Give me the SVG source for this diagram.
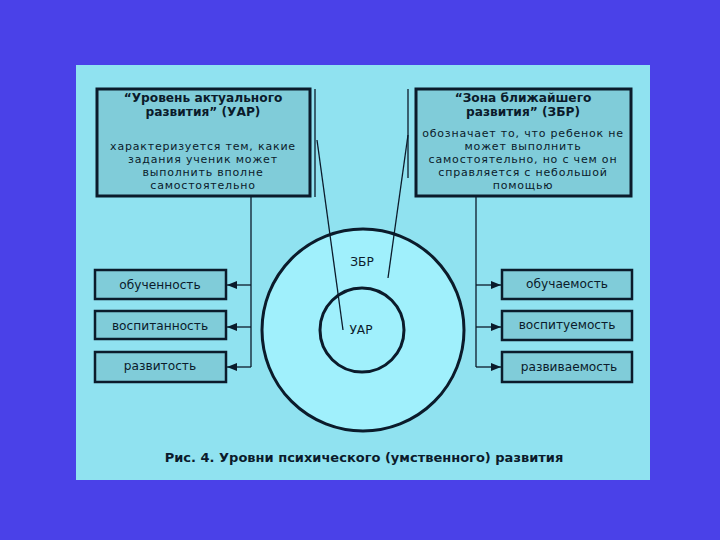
<svg xmlns="http://www.w3.org/2000/svg" width="720" height="540" viewBox="0 0 720 540">
<style>
.box{fill:#80ccd9;stroke:#0b1b2b;stroke-width:3}
.sbox{fill:#80ccd9;stroke:#0b1b2b;stroke-width:2.5}
.ln{fill:none;stroke:#0b1b2b;stroke-width:1.3}
.t{font-family:"DejaVu Sans",Verdana,sans-serif;font-size:12.2px;fill:#0b1b2b;text-anchor:middle}
.bd{font-size:11px;letter-spacing:0.8px}
.b{font-weight:bold;font-size:12.2px}
</style>
<defs>
<marker id="ah" viewBox="0 0 10 8" refX="10" refY="4" markerWidth="10" markerHeight="8" markerUnits="userSpaceOnUse" orient="auto">
<path d="M0,0 L10,4 L0,8 Z" fill="#0b1b2b"/>
</marker>
</defs>
<rect x="0" y="0" width="720" height="540" fill="#4a41e8"/>
<rect x="76" y="65" width="574" height="415" fill="#90e2f0"/>

<g id="circles">
<circle cx="363" cy="330" r="101" fill="#a0f0fc" stroke="#0b1b2b" stroke-width="3"/>
<circle cx="362" cy="330" r="42" fill="#a0f0fc" stroke="#0b1b2b" stroke-width="3"/>
<text class="t" x="362" y="266">ЗБР</text>
<text class="t" x="361" y="334">УАР</text>
</g>

<g id="connectors">
<line class="ln" x1="315" y1="89" x2="315" y2="197"/>
<line class="ln" x1="317" y1="140" x2="343" y2="330"/>
<line class="ln" x1="408" y1="89" x2="408" y2="178"/>
<line class="ln" x1="408" y1="135" x2="388" y2="278"/>
<polyline class="ln" points="251,196 251,367"/>
<line class="ln" x1="251" y1="285" x2="227" y2="285" marker-end="url(#ah)"/>
<line class="ln" x1="251" y1="327" x2="227" y2="327" marker-end="url(#ah)"/>
<line class="ln" x1="251" y1="367" x2="227" y2="367" marker-end="url(#ah)"/>
<polyline class="ln" points="476,196 476,367"/>
<line class="ln" x1="476" y1="285" x2="501" y2="285" marker-end="url(#ah)"/>
<line class="ln" x1="476" y1="327" x2="501" y2="327" marker-end="url(#ah)"/>
<line class="ln" x1="476" y1="367" x2="501" y2="367" marker-end="url(#ah)"/>
</g>

<g id="uar-box">
<rect class="box" x="97" y="89" width="213" height="107"/>
<text class="t b" x="203" y="102">“Уровень актуального</text>
<text class="t b" x="203" y="116">развития” (УАР)</text>
<text class="t bd" x="203" y="150">характеризуется тем, какие</text>
<text class="t bd" x="203" y="163">задания ученик может</text>
<text class="t bd" x="203" y="176">выполнить вполне</text>
<text class="t bd" x="203" y="189">самостоятельно</text>
</g>

<g id="zbr-box">
<rect class="box" x="416" y="89" width="215" height="107"/>
<text class="t b" x="523" y="102">“Зона ближайшего</text>
<text class="t b" x="523" y="116">развития” (ЗБР)</text>
<text class="t bd" x="523" y="137">обозначает то, что ребенок не</text>
<text class="t bd" x="523" y="150">может выполнить</text>
<text class="t bd" x="523" y="163">самостоятельно, но с чем он</text>
<text class="t bd" x="523" y="176">справляется с небольшой</text>
<text class="t bd" x="523" y="189">помощью</text>
</g>

<g id="obuchennost">
<rect class="sbox" x="95" y="270" width="131" height="29"/>
<text class="t" x="160" y="289">обученность</text>
</g>
<g id="vospitannost">
<rect class="sbox" x="95" y="311" width="131" height="28"/>
<text class="t" x="160" y="330">воспитанность</text>
</g>
<g id="razvitost">
<rect class="sbox" x="95" y="352" width="131" height="30"/>
<text class="t" x="160" y="370">развитость</text>
</g>

<g id="obuchaemost">
<rect class="sbox" x="502" y="270" width="130" height="29"/>
<text class="t" x="567" y="288">обучаемость</text>
</g>
<g id="vospituemost">
<rect class="sbox" x="502" y="311" width="130" height="29"/>
<text class="t" x="567" y="329">воспитуемость</text>
</g>
<g id="razvivaemost">
<rect class="sbox" x="502" y="352" width="130" height="30"/>
<text class="t" x="569" y="371">развиваемость</text>
</g>

<text class="t b" x="364" y="462" style="font-size:13px">Рис. 4. Уровни психического (умственного) развития</text>
</svg>
